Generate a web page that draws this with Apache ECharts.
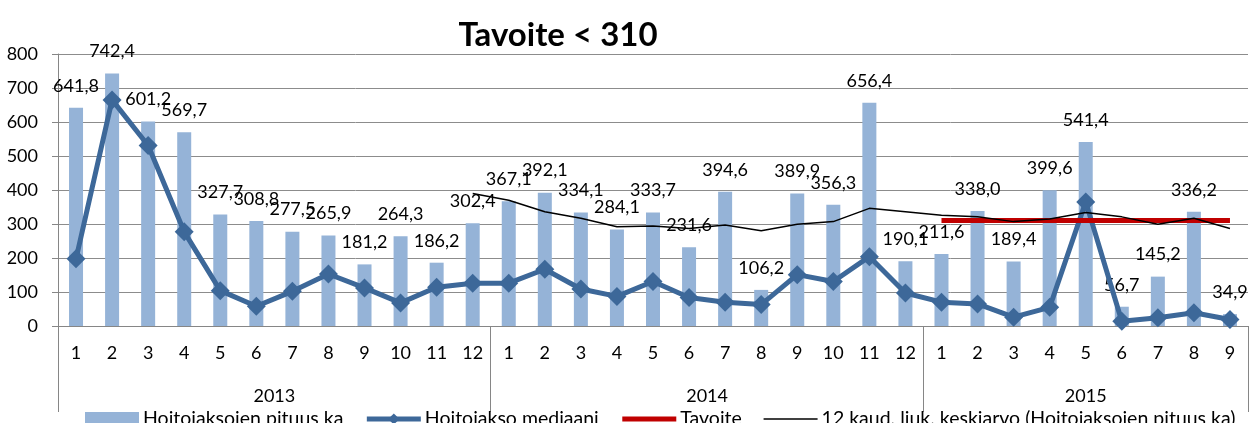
<!DOCTYPE html>
<html>
<head>
<meta charset="utf-8">
<script src="https://cdn.jsdelivr.net/npm/echarts@6/dist/echarts.min.js"></script>
<style>
html,body{margin:0;padding:0;background:#fff;}
#chart{width:1254px;height:423px;}
</style>
</head>
<body>
<div id="chart"></div>
<script>
const months = ['1','2','3','4','5','6','7','8','9','10','11','12',
                '1','2','3','4','5','6','7','8','9','10','11','12',
                '1','2','3','4','5','6','7','8','9'];
const years = ['2013','2014','2015'];
const yearCounts = [12,12,9];
const pituusKa = [641.8,742.4,601.2,569.7,327.7,308.8,277.5,265.9,181.2,264.3,186.2,302.4,
                  367.1,392.1,334.1,284.1,333.7,231.6,394.6,106.2,389.9,356.3,656.4,190.1,
                  211.6,338.0,189.4,399.6,541.4,56.7,145.2,336.2,34.9];
const mediaani = [198,665,531,277,104,58,102,153,112,68,114,126,
                  126,167,109,87,131,84,70,63,151,131,204,97,
                  70,65,26,55,365,14,24,39,19];
const tavoite = [null,null,null,null,null,null,null,null,null,null,null,null,
                 null,null,null,null,null,null,null,null,null,null,null,null,
                 310,310,310,310,310,310,310,310,310];
const liukKa = [null,null,null,null,null,null,null,null,null,null,null,390,
                370,336,317,292,294,287,297,280,299,307,346,336,
                326,321,307,315,334,321,299,317,287];
const yTicks = [0,100,200,300,400,500,600,700,800];

// year boundaries and centres derived from counts
const yearBounds = [0];
yearCounts.forEach(c => yearBounds.push(yearBounds[yearBounds.length-1] + c));
const yearCentres = years.map((y,i) => (yearBounds[i] + yearBounds[i+1]) / 2);

const FONT = 'Lato, "Open Sans", sans-serif';
const chart = echarts.init(document.getElementById('chart'), null, {renderer:'canvas'});
chart.setOption({
  animation: false,
  backgroundColor: '#fff',
  textStyle: {fontFamily: FONT},
  title: {
    text: 'Tavoite < 310',
    left: 553, top: 14, textAlign: 'center',
    textStyle: {fontFamily: FONT, fontSize: 33, fontWeight: 'bold', color: '#000'}
  },
  grid: {left: 58, right: 6, top: 54, bottom: 97, containLabel: false},
  legend: {
    left: 80, top: 404,
    itemWidth: 54, itemHeight: 14, itemGap: 21,
    textStyle: {fontFamily: FONT, fontSize: 19.5, color: '#000', padding: [0,0,0,-1]},
    data: [
      {name: 'Hoitojaksojen pituus ka', icon: 'rect'},
      {name: 'Hoitojakso mediaani', lineStyle: {width: 5, color: '#3d6899'}},
      {name: 'Tavoite', itemStyle: {opacity: 0}, lineStyle: {width: 5, color: '#c00000'}},
      {name: '12 kaud. liuk. keskiarvo (Hoitojaksojen pituus ka)', itemStyle: {opacity: 0}, lineStyle: {width: 1.5, color: '#000'}}
    ]
  },
  xAxis: [
    {
      type: 'category', data: months, boundaryGap: true,
      axisLine: {lineStyle: {color: '#868686', width: 1}},
      axisTick: {interval: 0, length: 42, lineStyle: {color: '#868686'}},
      axisLabel: {interval: 0, margin: 18, fontSize: 18, color: '#000', fontFamily: FONT},
      splitLine: {show: false}
    },
    {
      type: 'value', position: 'bottom', min: 0, max: yearBounds[yearBounds.length-1],
      axisLine: {show: false},
      axisTick: {show: true, customValues: yearBounds, length: 86, lineStyle: {color: '#868686'}},
      axisLabel: {
        customValues: yearCentres, margin: 61, fontSize: 18, color: '#000', fontFamily: FONT,
        formatter: v => { const i = yearCentres.indexOf(v); return i >= 0 ? years[i] : ''; }
      },
      splitLine: {show: false}
    }
  ],
  yAxis: {
    type: 'value', min: yTicks[0], max: yTicks[yTicks.length-1], interval: 100,
    axisLine: {show: true, lineStyle: {color: '#868686'}},
    axisTick: {show: true, length: 6, lineStyle: {color: '#868686'}},
    axisLabel: {margin: 20, fontSize: 18, color: '#000', fontFamily: FONT},
    splitLine: {lineStyle: {color: '#8c8c8c', width: 1}}
  },
  series: [
    {
      name: 'Hoitojaksojen pituus ka', type: 'bar', data: pituusKa,
      barWidth: 14, itemStyle: {color: '#95b3d7'},
      label: {
        show: true, position: 'top', distance: 13,
        fontSize: 18, color: '#000', fontFamily: FONT,
        formatter: p => p.value.toFixed(1).replace('.', ',')
      }
    },
    {
      name: 'Hoitojakso mediaani', type: 'line', data: mediaani,
      symbol: 'diamond', symbolSize: 19, showAllSymbol: true,
      lineStyle: {color: '#3d6899', width: 5},
      itemStyle: {color: '#3d6899'}
    },
    {
      name: 'Tavoite', type: 'line', data: tavoite,
      symbol: 'none', lineStyle: {color: '#c00000', width: 5},
      itemStyle: {color: '#c00000'}
    },
    {
      name: '12 kaud. liuk. keskiarvo (Hoitojaksojen pituus ka)', type: 'line', data: liukKa,
      symbol: 'none', lineStyle: {color: '#000', width: 1.5},
      itemStyle: {color: '#000'}
    }
  ]
});
</script>
</body>
</html>
